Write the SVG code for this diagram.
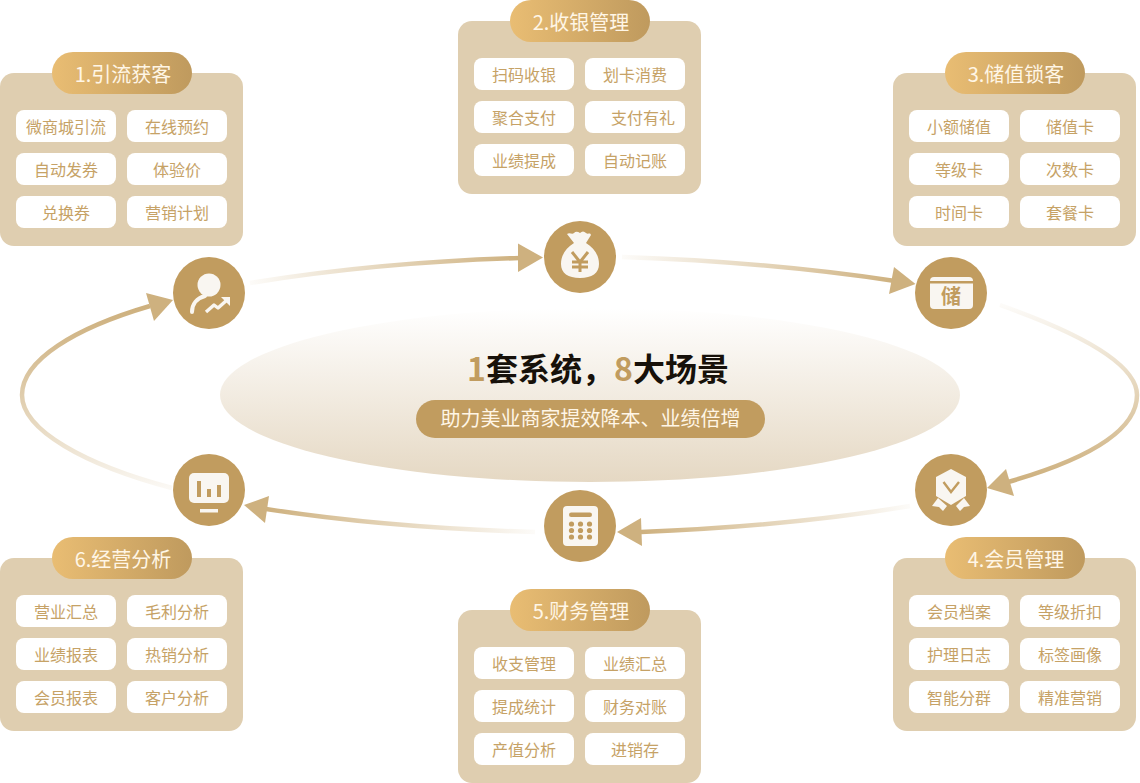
<svg xmlns="http://www.w3.org/2000/svg" width="1140" height="783" viewBox="0 0 1140 783">
<style>
text{font-family:"Noto Sans CJK SC","Noto Sans",sans-serif;text-anchor:middle}
.panel{fill:#dfceb0}
.pill{fill:url(#pillGrad)}
.cell{fill:#fff}
.cellText{font-size:16px;fill:#c6a266}
.pillText{font-size:20px;fill:#fff6e6}
.disc{fill:#c19c5f}
.ico{fill:#f9f6f1}
.icoCut{fill:#c19c5f}
.arc{fill:none;stroke-width:4.500}
.head{fill:#ceb17f}
</style>
<defs>
<linearGradient id="pillGrad" x1="0" y1="0" x2="1" y2="0"><stop offset="0" stop-color="#e9bd73"/><stop offset="1" stop-color="#bf9a5e"/></linearGradient>
<linearGradient id="ellGrad" x1="0" y1="0" x2="0" y2="1"><stop offset="0" stop-color="#e5d8c3" stop-opacity="0"/><stop offset="1" stop-color="#e5d8c3"/></linearGradient>
<linearGradient id="a1" gradientUnits="userSpaceOnUse" x1="250" y1="283" x2="518" y2="258"><stop offset="0" stop-color="#ceb17f" stop-opacity="0.05"/><stop offset="1" stop-color="#ceb17f"/></linearGradient>
<linearGradient id="a2" gradientUnits="userSpaceOnUse" x1="622" y1="257" x2="895" y2="281"><stop offset="0" stop-color="#ceb17f" stop-opacity="0.05"/><stop offset="1" stop-color="#ceb17f"/></linearGradient>
<linearGradient id="a3" gradientUnits="userSpaceOnUse" x1="1000" y1="305" x2="1008" y2="482"><stop offset="0" stop-color="#ceb17f" stop-opacity="0.05"/><stop offset="1" stop-color="#ceb17f"/></linearGradient>
<linearGradient id="a4" gradientUnits="userSpaceOnUse" x1="910" y1="506" x2="641" y2="532"><stop offset="0" stop-color="#ceb17f" stop-opacity="0.05"/><stop offset="1" stop-color="#ceb17f"/></linearGradient>
<linearGradient id="a5" gradientUnits="userSpaceOnUse" x1="535" y1="532" x2="266" y2="509"><stop offset="0" stop-color="#ceb17f" stop-opacity="0.05"/><stop offset="1" stop-color="#ceb17f"/></linearGradient>
<linearGradient id="a6" gradientUnits="userSpaceOnUse" x1="172" y1="488" x2="148" y2="307"><stop offset="0" stop-color="#ceb17f" stop-opacity="0.08"/><stop offset="1" stop-color="#ceb17f"/></linearGradient>
<g id="box">
<rect class="panel" width="243" height="173" rx="14"/>
<rect class="pill" x="52" y="-21" width="140" height="42" rx="21"/>
<rect class="cell" x="16" y="37" width="100" height="32" rx="8"/>
<rect class="cell" x="127" y="37" width="100" height="32" rx="8"/>
<rect class="cell" x="16" y="80" width="100" height="32" rx="8"/>
<rect class="cell" x="127" y="80" width="100" height="32" rx="8"/>
<rect class="cell" x="16" y="123" width="100" height="32" rx="8"/>
<rect class="cell" x="127" y="123" width="100" height="32" rx="8"/>
</g>
</defs>

<ellipse id="hub" cx="590" cy="395" rx="370" ry="87" fill="url(#ellGrad)"/>

<g id="connectors">
<path class="arc" stroke="url(#a1)" d="M250 283Q380 262 520 258"/>
<polygon class="head" points="543,257.500 518,243.500 518,272"/>
<path class="arc" stroke="url(#a2)" d="M622 257Q770 262 895 281"/>
<polygon class="head" points="915.500,284 894,267 889,294"/>
<path class="arc" stroke="url(#a3)" d="M1000 305C1085 335 1137 365 1137 395C1137 432 1085 460 1008 482"/>
<polygon class="head" points="987,488 1006,469 1014,496"/>
<path class="arc" stroke="url(#a4)" d="M910 506Q790 526 641 532"/>
<polygon class="head" points="617,532 641,518 642,546"/>
<path class="arc" stroke="url(#a5)" d="M535 532Q390 528 266 509"/>
<polygon class="head" points="244,505 269,496 265,523"/>
<path class="arc" stroke="url(#a6)" d="M172 488C85 465 22 430 22 395C22 360 75 328 150 306"/>
<polygon class="head" points="173,300 146,293 154,321"/>
</g>

<g id="center">
<text x="598" y="381" font-size="32" font-weight="700" fill="#17110a"><tspan fill="#c19c5f">1</tspan>套系统，<tspan fill="#c19c5f">8</tspan>大场景</text>
<rect x="416" y="400" width="349" height="38" rx="19" fill="#c19c5f"/>
<text x="590.500" y="426" font-size="20" fill="#fff6e6">助力美业商家提效降本、业绩倍增</text>
</g>

<g id="node-1" transform="translate(0 73)">
<use href="#box"/>
<text class="pillText" x="123" y="9">1.引流获客</text>
<text class="cellText" x="66" y="60">微商城引流</text><text class="cellText" x="177" y="60">在线预约</text>
<text class="cellText" x="66" y="103">自动发券</text><text class="cellText" x="177" y="103">体验价</text>
<text class="cellText" x="66" y="146">兑换券</text><text class="cellText" x="177" y="146">营销计划</text>
</g>
<g id="node-2" transform="translate(458 21)">
<use href="#box"/>
<text class="pillText" x="123" y="9">2.收银管理</text>
<text class="cellText" x="66" y="60">扫码收银</text><text class="cellText" x="177" y="60">划卡消费</text>
<text class="cellText" x="66" y="103">聚合支付</text><text class="cellText" x="185" y="103">支付有礼</text>
<text class="cellText" x="66" y="146">业绩提成</text><text class="cellText" x="177" y="146">自动记账</text>
</g>
<g id="node-3" transform="translate(893 73)">
<use href="#box"/>
<text class="pillText" x="123" y="9">3.储值锁客</text>
<text class="cellText" x="66" y="60">小额储值</text><text class="cellText" x="177" y="60">储值卡</text>
<text class="cellText" x="66" y="103">等级卡</text><text class="cellText" x="177" y="103">次数卡</text>
<text class="cellText" x="66" y="146">时间卡</text><text class="cellText" x="177" y="146">套餐卡</text>
</g>
<g id="node-4" transform="translate(893 558)">
<use href="#box"/>
<text class="pillText" x="123" y="9">4.会员管理</text>
<text class="cellText" x="66" y="60">会员档案</text><text class="cellText" x="177" y="60">等级折扣</text>
<text class="cellText" x="66" y="103">护理日志</text><text class="cellText" x="177" y="103">标签画像</text>
<text class="cellText" x="66" y="146">智能分群</text><text class="cellText" x="177" y="146">精准营销</text>
</g>
<g id="node-5" transform="translate(458 610)">
<use href="#box"/>
<text class="pillText" x="123" y="9">5.财务管理</text>
<text class="cellText" x="66" y="60">收支管理</text><text class="cellText" x="177" y="60">业绩汇总</text>
<text class="cellText" x="66" y="103">提成统计</text><text class="cellText" x="177" y="103">财务对账</text>
<text class="cellText" x="66" y="146">产值分析</text><text class="cellText" x="177" y="146">进销存</text>
</g>
<g id="node-6" transform="translate(0 558)">
<use href="#box"/>
<text class="pillText" x="123" y="9">6.经营分析</text>
<text class="cellText" x="66" y="60">营业汇总</text><text class="cellText" x="177" y="60">毛利分析</text>
<text class="cellText" x="66" y="103">业绩报表</text><text class="cellText" x="177" y="103">热销分析</text>
<text class="cellText" x="66" y="146">会员报表</text><text class="cellText" x="177" y="146">客户分析</text>
</g>

<g id="icon-person">
<circle class="disc" cx="209" cy="293" r="36"/>
<circle class="ico" cx="209" cy="285" r="11.500"/>
<path d="M192 312C192 304 197 298 205 296" fill="none" stroke="#f9f6f1" stroke-width="4" stroke-linecap="round"/>
<path d="M206 312L214 305L218 308L227 300" fill="none" stroke="#f9f6f1" stroke-width="3.400" stroke-linejoin="round"/>
<polygon class="ico" points="230,297 230,306 221,297"/>
</g>
<g id="icon-bag">
<circle class="disc" cx="580" cy="257" r="36"/>
<path class="ico" d="M567 234C570 232 572 235 574 233C576 231 578 232 580 233C582 231 584 231 586 233C588 235 590 232 591 235L586 243C594 248 599 255 599 264C599 273 592 278 580 278C568 278 561 273 561 264C561 255 566 248 574 243Z"/>
<path d="M572 252L580 262L588 252M580 262V272M572 262H588M572 267H588" fill="none" stroke="#c19c5f" stroke-width="3"/>
</g>
<g id="icon-card">
<circle class="disc" cx="951" cy="293" r="36"/>
<rect class="ico" x="930" y="277" width="43" height="32" rx="4"/>
<rect class="icoCut" x="930" y="281" width="43" height="2.500"/>
<text x="951" y="304" font-size="20" font-weight="700" fill="#c19c5f">储</text>
</g>
<g id="icon-medal">
<circle class="disc" cx="951" cy="490" r="36"/>
<polygon class="ico" points="951,469 966,477 966,496 951,505 936,496 936,477"/>
<path d="M943.500 482L951 492L959 482" fill="none" stroke="#c19c5f" stroke-width="2.400"/>
<polygon class="ico" points="938,498 947,506 943,511 939,507 932,506"/>
<polygon class="ico" points="964,498 956,506 960,511 964,507 970,506"/>
</g>
<g id="icon-calc">
<circle class="disc" cx="580" cy="526" r="36"/>
<rect class="ico" x="563" y="506" width="35" height="40" rx="4"/>
<rect class="icoCut" x="569" y="512.500" width="23" height="4.500" rx="2.200"/>
<g class="icoCut">
<circle cx="571.500" cy="524" r="2.600"/><circle cx="580.500" cy="524" r="2.600"/><circle cx="589.500" cy="524" r="2.600"/>
<circle cx="571.500" cy="530.500" r="2.600"/><circle cx="580.500" cy="530.500" r="2.600"/><circle cx="589.500" cy="530.500" r="2.600"/>
<circle cx="571.500" cy="537" r="2.600"/><circle cx="580.500" cy="537" r="2.600"/><circle cx="589.500" cy="537" r="2.600"/>
</g>
</g>
<g id="icon-chart">
<circle class="disc" cx="209" cy="490" r="36"/>
<rect class="ico" x="189" y="473" width="40" height="30" rx="5"/>
<rect class="icoCut" x="197" y="481" width="4" height="16"/>
<rect class="icoCut" x="207" y="489" width="4" height="8"/>
<rect class="icoCut" x="217" y="485" width="4" height="12"/>
<rect class="ico" x="200" y="509" width="18" height="3.500"/>
</g>
</svg>
